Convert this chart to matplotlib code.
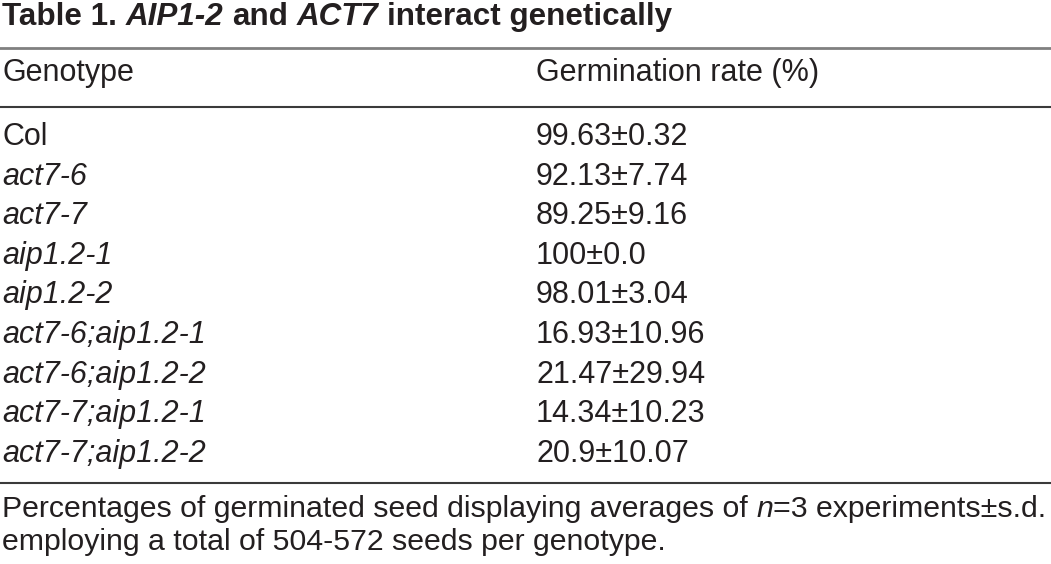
import matplotlib
matplotlib.use("Agg")
import matplotlib.pyplot as plt
from matplotlib.lines import Line2D
from matplotlib.transforms import IdentityTransform

# table content
title_runs = [("Table 1. ", "normal"), ("AIP1-2", "italic"), (" and ", "normal"),
              ("ACT7", "italic"), (" interact genetically", "normal")]
col_headers = ["Genotype", "Germination rate (%)"]
genotypes = ["Col", "act7-6", "act7-7", "aip1.2-1", "aip1.2-2",
             "act7-6;aip1.2-1", "act7-6;aip1.2-2", "act7-7;aip1.2-1", "act7-7;aip1.2-2"]
means = ["99.63", "92.13", "89.25", "100", "98.01", "16.93", "21.47", "14.34", "20.9"]
sds = ["0.32", "7.74", "9.16", "0.0", "3.04", "10.96", "29.94", "10.23", "10.07"]
footer_runs = [("Percentages of germinated seed displaying averages of ", "normal"),
               ("n", "italic"), ("=3 experiments\u00b1s.d.", "normal")]
footer_line2 = "employing a total of 504-572 seeds per genotype."

W, H = 1051, 564
fig = plt.figure(figsize=(W / 100, H / 100), dpi=100)
fig.patch.set_facecolor("white")
renderer = fig.canvas.get_renderer()
ident = IdentityTransform()

TXT = "#231f20"
FONT = "Liberation Sans"


def put(x, ybase, s, size, style="normal", weight="normal"):
    t = fig.text(x, H - ybase, s, transform=ident, fontsize=size, fontstyle=style,
                 fontweight=weight, family=FONT, color=TXT, ha="left", va="baseline")
    return t


def put_runs(x, ybase, runs, size, weight="normal"):
    # measure a space so runs with leading/trailing blanks line up
    a = put(0, -100, "aa", size, weight=weight)
    b = put(0, -100, "a a", size, weight=weight)
    sp = b.get_window_extent(renderer).width - a.get_window_extent(renderer).width
    a.remove()
    b.remove()
    for s, style in runs:
        lead = len(s) - len(s.lstrip(" "))
        trail = len(s) - len(s.rstrip(" "))
        x += lead * sp
        t = put(x, ybase, s.strip(" "), size, style, weight)
        x += t.get_window_extent(renderer).width + trail * sp


def hline(y, color, lw):
    fig.add_artist(Line2D([0, W], [H - y, H - y], transform=ident, color=color, lw=lw))


BODY = 22
FOOT = 21.8
x1, x2 = 2, 536

put_runs(2, 25, title_runs, 22.6, weight="bold")
hline(48, "#808080", 2.0)

put(x1, 81, col_headers[0], BODY)
put(x2, 81, col_headers[1], BODY)
hline(107, "#3a3a3a", 1.5)

row_base = 145
row_step = 39.6
for i, (g, m, s) in enumerate(zip(genotypes, means, sds)):
    y = row_base + i * row_step
    put(x1, y, g, BODY, style="normal" if g == "Col" else "italic")
    put(x2, y, f"{m}\u00b1{s}", BODY)

hline(483, "#3a3a3a", 1.5)

put_runs(2, 517, footer_runs, FOOT)
put(2, 550, footer_line2, FOOT)

fig.savefig("out.png", dpi=100, facecolor="white")
